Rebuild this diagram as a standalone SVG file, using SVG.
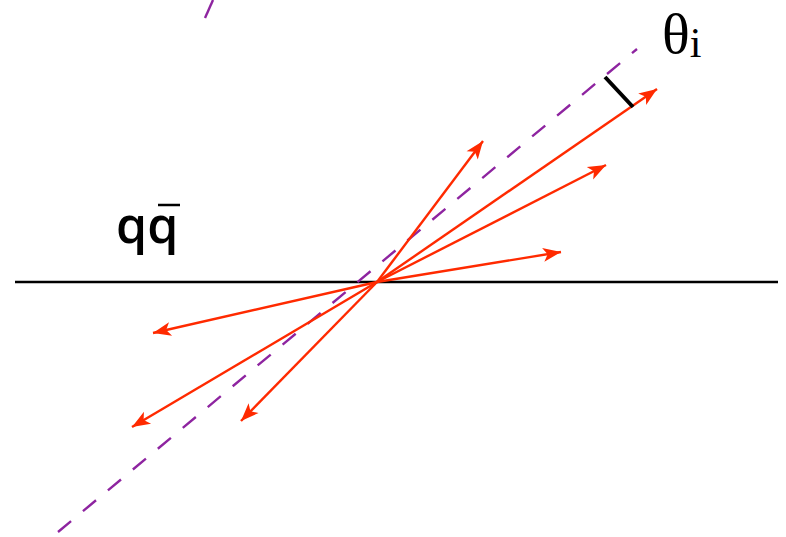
<svg xmlns="http://www.w3.org/2000/svg" width="786" height="537" viewBox="0 0 786 537">
<style>
.ray{stroke:#ff2a00;stroke-width:2.4;fill:none;marker-end:url(#ah)}
.axis{stroke:#000;stroke-width:2.5}
.dash{stroke:#8e24a0;stroke-width:2.4;stroke-dasharray:17 15.5;fill:none}
</style>
<defs>
<marker id="ah" markerUnits="userSpaceOnUse" markerWidth="20" markerHeight="16" refX="18" refY="7" orient="auto" overflow="visible">
<path d="M0,0 L18,7 L0,14 L4.5,7 z" fill="#ff2a00"/>
</marker>
</defs>
<rect width="786" height="537" fill="#fff"/>
<g id="axis">
<line class="axis" x1="15" y1="282" x2="778" y2="282"/>
</g>
<g id="jet-axis">
<line class="dash" x1="58" y1="532" x2="637" y2="49"/>
<line class="dash" x1="213" y1="0" x2="205" y2="18" style="stroke-dasharray:none"/>
</g>
<g id="connectors">
<line class="ray" x1="377" y1="282" x2="483" y2="141"/>
<line class="ray" x1="377" y1="282" x2="657" y2="89"/>
<line class="ray" x1="377" y1="282" x2="606" y2="165"/>
<line class="ray" x1="377" y1="282" x2="561" y2="252"/>
<line class="ray" x1="377" y1="282" x2="153" y2="333"/>
<line class="ray" x1="377" y1="282" x2="132" y2="427"/>
<line class="ray" x1="377" y1="282" x2="241" y2="421"/>
</g>
<g id="angle-tick">
<line x1="605" y1="77" x2="633" y2="107" stroke="#000" stroke-width="4"/>
</g>
<g id="theta-label">
<text x="662" y="53" font-family="'Liberation Serif','Times New Roman',serif" font-size="58" fill="#000">θ<tspan font-size="42" dy="4">i</tspan></text>
</g>
<g id="qqbar-label">
<text x="116" y="243" font-family="'Open Sans','Lato',sans-serif" font-weight="600" font-size="50" fill="#000">qq</text>
<line x1="158" y1="205" x2="180" y2="205" stroke="#000" stroke-width="2.5"/>
</g>
</svg>
